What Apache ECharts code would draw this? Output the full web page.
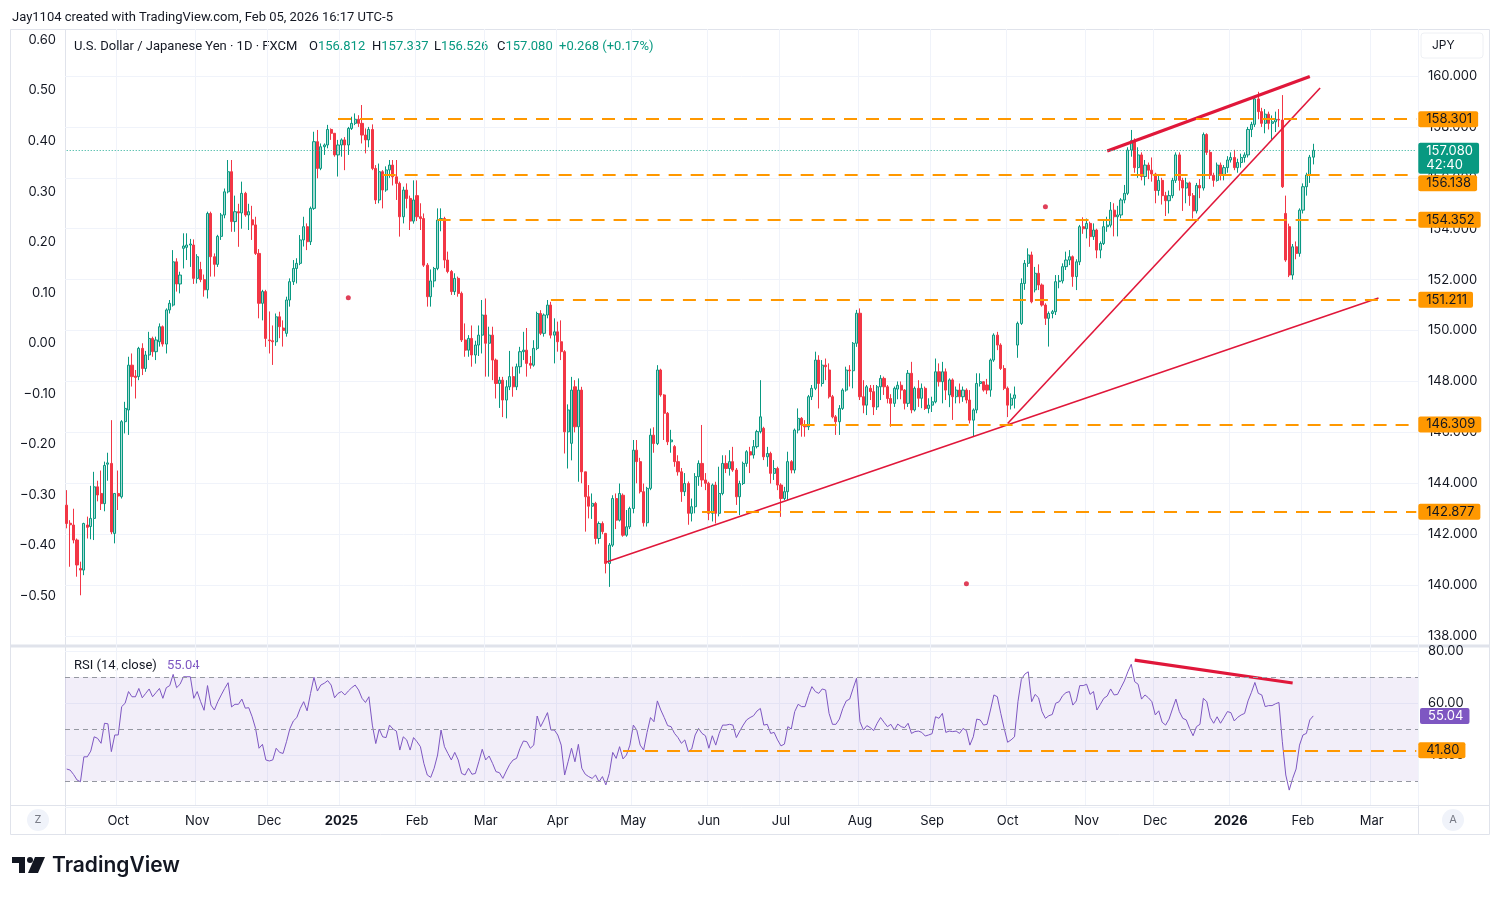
<!DOCTYPE html>
<html><head><meta charset="utf-8">
<script src="https://cdn.jsdelivr.net/npm/echarts@6/dist/echarts.min.js"></script>
<style>html,body{margin:0;padding:0;background:#fff}#c{width:1500px;height:897px}</style>
</head><body><div id="c"></div><script>
// ---------------- DATA ----------------
const firstDay = '2024-09-10';
const barSlots = 394;               // trading-day slots shown on the time axis (incl. future)
const holidays = ['2024-12-25','2025-01-01','2025-12-25','2026-01-01'];
const monthNames = ['Jan','Feb','Mar','Apr','May','Jun','Jul','Aug','Sep','Oct','Nov','Dec'];

// daily candles [open, high, low, close], USD/JPY FXCM, from 2024-09-10 to 2026-02-05
const candles = [
// Sep 2024
[143.14,143.73,142.23,142.42],[142.43,142.55,140.72,142.37],[142.36,143.00,141.64,141.77],[141.77,141.83,140.33,140.79],
[140.65,140.92,139.60,140.59],[140.59,142.45,140.39,142.42],[142.36,142.69,141.83,142.27],[142.30,143.90,141.80,142.62],
[142.62,144.45,141.77,143.86],[143.86,144.10,143.29,143.54],[143.60,144.50,142.95,143.20],[143.20,144.85,142.90,144.70],
[144.75,145.20,144.10,144.80],[144.78,146.48,142.00,142.09],[142.03,143.60,141.64,143.60],
// Oct 2024
[143.60,144.50,142.95,143.50],[143.47,146.48,143.40,146.42],[146.42,147.20,145.96,146.94],[146.88,148.97,145.90,148.64],
[148.64,149.10,147.80,148.19],[148.21,148.45,147.33,148.16],[148.19,149.36,148.05,149.30],[149.30,149.50,148.25,148.51],
[148.51,149.20,148.38,149.04],[149.04,149.95,148.84,149.69],[149.69,149.76,148.97,149.17],[149.17,149.76,148.84,149.63],
[149.56,150.28,149.37,150.15],[150.15,150.20,149.37,149.47],[149.47,150.87,149.10,150.81],[150.81,151.20,150.67,151.07],
[151.00,153.16,150.94,152.70],[152.70,152.84,151.53,151.83],[151.83,152.31,151.46,152.18],[153.23,153.82,152.44,153.32],
[153.27,153.82,152.77,153.36],[153.36,153.60,152.50,153.40],[153.36,153.58,151.83,152.05],
// Nov 2024
[152.05,153.00,151.85,152.90],[152.40,152.70,151.90,152.00],[152.00,152.20,151.33,151.60],[151.60,154.67,151.26,154.60],
[154.60,154.67,152.12,152.90],[152.90,153.03,152.12,152.60],[152.60,153.76,152.50,153.70],[153.70,154.62,153.56,154.54],
[154.54,155.58,154.41,155.45],[155.45,156.70,155.39,156.24],[156.24,156.70,153.88,154.28],[154.28,155.30,153.88,154.67],
[154.67,154.98,153.29,154.62],[154.62,155.85,154.00,155.39],[155.39,155.45,154.47,154.54],[154.54,154.98,153.95,154.67],
[154.35,154.90,153.56,154.15],[154.15,154.47,152.97,153.03],[153.03,153.20,150.48,151.07],[151.07,151.60,150.40,151.53],
[151.53,151.60,149.36,149.69],
// Dec 2024
[149.63,150.75,149.10,149.60],[149.60,150.20,148.65,149.56],[149.56,150.67,149.40,150.54],[150.54,150.74,149.70,150.15],
[150.10,150.40,149.37,150.00],[149.89,151.33,149.76,151.20],[151.20,152.05,150.94,151.92],[151.92,152.77,151.79,152.44],
[152.44,152.84,151.85,152.64],[152.64,153.75,152.57,153.56],[153.56,154.47,153.30,154.08],[154.08,154.21,153.16,153.49],
[153.49,154.87,153.36,154.80],[154.80,157.81,154.74,157.42],[157.42,157.88,155.98,156.37],[156.37,157.35,156.30,157.22],
[157.22,157.35,156.90,157.29],[157.29,158.08,157.16,157.90],[157.90,157.94,157.49,157.75],[157.75,157.75,156.83,156.90],
[156.90,157.49,156.05,157.29],
// Jan 2025
[157.29,157.55,156.83,157.49],[157.49,157.60,156.30,157.29],[157.29,158.00,156.90,157.94],[157.94,158.40,157.88,158.14],
[158.14,158.53,158.07,158.30],[158.30,158.46,158.00,158.14],[158.14,158.86,157.35,157.68],[157.68,157.94,156.96,157.49],
[157.49,158.00,157.20,157.90],[157.90,158.10,156.30,156.37],[156.37,156.50,154.97,155.13],[155.13,156.56,155.00,156.24],
[156.24,156.30,154.80,155.52],[155.52,156.45,155.45,156.31],[156.31,156.70,156.00,156.50],[156.50,156.70,155.70,156.04],
[156.04,156.70,155.13,155.78],[155.78,155.85,153.69,154.47],[154.47,155.65,154.21,155.52],[155.52,155.78,154.80,155.19],
[155.19,155.30,153.95,154.30],[154.30,155.90,154.20,155.13],
// Feb 2025
[155.30,155.90,154.30,154.47],[154.47,155.00,153.95,154.40],[154.40,154.60,152.50,152.57],[152.57,152.65,150.94,151.33],
[151.33,152.40,150.94,151.95],[151.95,152.50,151.70,152.44],[152.44,154.80,152.37,154.34],[154.34,154.80,153.90,154.40],
[154.40,154.47,152.45,152.77],[152.77,153.10,152.25,152.32],[152.32,152.38,151.40,151.53],[151.53,152.25,151.40,152.05],
[152.05,152.12,151.33,151.46],[151.46,151.53,149.55,149.63],[149.63,150.28,148.97,149.23],[149.23,149.82,148.97,149.69],
[149.69,150.20,148.58,149.04],[149.04,149.60,148.70,149.43],[149.43,150.20,149.00,149.82],[149.82,151.20,149.10,150.61],
// Mar 2025
[150.61,151.26,148.19,149.50],[149.50,150.15,148.19,149.82],[149.82,150.15,148.05,148.84],[148.84,148.90,147.33,147.92],
[147.92,148.18,146.96,148.05],[148.05,148.18,146.60,147.27],[147.27,148.05,146.55,147.79],[147.79,149.20,147.66,148.19],
[148.19,148.58,147.40,147.79],[147.79,148.70,147.66,148.58],[148.58,149.36,148.31,149.17],[149.17,149.95,148.84,149.23],
[149.23,150.10,148.19,148.71],[148.71,149.00,148.50,148.64],[148.64,149.62,148.58,149.30],[149.30,150.74,149.23,150.67],
[150.67,150.80,149.82,149.89],[149.89,150.67,149.76,150.61],[150.61,151.20,150.48,151.00],[151.00,151.13,149.69,149.82],
[149.82,150.48,148.71,149.95],
// Apr 2025
[149.95,150.35,149.17,149.56],[149.56,150.40,148.84,149.17],[149.17,149.23,145.17,146.02],[146.02,147.10,144.58,146.88],
[145.57,148.18,144.90,147.66],[147.79,148.05,146.00,146.22],[146.22,148.12,144.06,147.66],[147.66,147.79,144.00,144.45],
[144.45,144.45,142.10,143.47],[143.47,143.93,142.62,143.10],[143.10,143.60,142.60,143.21],[143.21,143.27,141.60,141.83],
[141.83,142.50,141.63,142.42],[142.42,142.50,142.00,142.10],[142.03,142.05,140.46,140.85],[140.85,141.65,139.93,141.57],
[141.57,143.53,141.50,143.40],[143.40,143.60,142.20,142.55],[142.55,143.99,142.50,143.60],[143.53,143.60,141.90,141.96],
[141.96,142.95,141.90,142.29],[142.29,143.08,142.20,143.01],
// May 2025
[143.01,145.70,142.82,145.30],[145.30,145.70,144.00,144.85],[144.85,145.00,143.60,143.67],[143.67,143.99,142.30,142.45],
[142.45,143.86,142.30,143.80],[143.80,146.15,143.73,145.89],[145.89,146.20,145.20,145.56],[145.56,148.64,145.50,148.45],
[148.45,148.50,147.40,147.47],[147.47,147.50,145.70,146.75],[146.75,146.80,145.50,145.63],[145.63,146.10,145.20,145.70],
[145.44,145.50,144.65,144.85],[144.85,145.10,144.30,144.45],[144.45,144.60,143.27,143.67],[143.67,144.40,143.50,143.99],
[143.99,144.07,142.37,142.82],[142.82,143.40,142.50,143.08],[143.08,144.40,142.82,144.26],[144.26,144.90,143.90,144.78],
[144.78,146.29,143.86,144.13],[144.13,144.40,143.73,144.00],
// Jun 2025
[144.00,144.06,142.55,142.82],[142.82,143.99,142.50,143.93],[143.93,144.06,142.42,142.82],[142.82,144.65,142.70,143.60],
[143.60,145.10,143.53,144.78],[144.78,145.10,144.40,144.58],[144.58,145.30,144.30,144.85],[144.85,145.43,144.45,144.52],
[144.52,144.60,143.15,143.47],[143.47,144.10,142.75,143.99],[143.99,144.85,143.93,144.78],[144.78,145.30,144.65,145.24],
[145.24,145.43,144.40,145.11],[145.11,145.70,144.97,145.44],[145.44,146.10,145.37,146.03],[146.03,148.05,145.96,146.61],
[146.16,146.22,144.91,145.04],[145.04,145.43,144.65,145.17],[145.17,145.24,143.99,144.39],[144.39,144.91,144.13,144.58],
[144.58,144.65,143.73,143.93],
// Jul 2025
[143.93,144.00,142.68,143.40],[143.40,143.86,143.34,143.67],[143.67,145.24,143.34,144.85],[144.85,144.91,144.39,144.52],
[144.52,146.15,144.39,146.09],[146.09,146.94,145.96,146.55],[146.55,146.60,145.83,146.29],[146.29,146.48,145.83,146.22],
[146.22,147.47,146.09,147.40],[147.40,147.86,147.27,147.73],[147.73,149.17,147.66,148.84],[148.84,149.03,146.94,147.92],
[147.92,148.84,147.80,148.64],[148.64,148.90,148.05,148.58],[148.45,148.71,147.33,147.40],[147.40,147.47,146.55,146.61],
[146.61,146.68,145.90,146.42],[146.42,147.07,145.90,146.94],[146.94,147.73,146.88,147.66],[147.66,148.58,147.60,148.45],
[148.45,148.64,147.80,148.42],[148.42,149.55,147.73,149.50],[149.50,150.81,149.36,150.68],
// Aug 2025
[150.68,150.87,147.27,147.40],[147.40,148.05,146.75,147.07],[147.07,147.86,146.68,147.79],[147.73,147.86,147.27,147.60],
[147.60,147.86,146.68,147.00],[147.00,147.86,146.88,147.79],[147.79,148.25,147.27,148.12],[148.12,148.19,147.47,147.79],
[147.79,147.86,147.14,147.33],[147.33,147.50,146.22,147.14],[147.14,147.80,147.00,147.73],[147.70,148.00,147.30,147.85],
[147.85,148.00,147.30,147.66],[147.66,147.70,146.90,147.14],[147.14,148.45,147.00,148.32],[148.32,148.77,146.75,146.88],
[146.88,147.80,146.82,147.73],[147.73,148.05,147.00,147.34],[147.34,147.92,146.95,147.73],[147.73,147.80,146.88,146.94],
[146.94,147.34,146.75,147.07],
// Sep 2025
[147.07,147.40,146.80,147.20],[147.20,148.90,147.14,148.38],[148.38,148.71,147.80,147.99],[147.99,148.77,147.14,148.38],
[148.38,148.51,147.27,147.66],[147.47,148.12,146.99,148.06],[148.06,148.12,146.49,147.40],[147.40,147.80,147.14,147.66],
[147.66,147.92,147.14,147.40],[147.40,147.80,147.20,147.66],[147.66,147.73,147.14,147.27],[147.27,147.66,146.35,146.48],
[146.48,146.94,145.83,146.88],[146.88,148.32,146.75,147.92],[147.92,148.32,147.80,147.99],[147.99,148.00,147.60,147.66],
[147.86,148.10,147.50,147.66],[147.66,148.90,147.40,148.84],[148.84,149.89,148.77,149.82],[149.82,149.95,149.23,149.43],
[149.43,149.50,148.45,148.51],[148.51,148.64,147.66,147.73],
// Oct 2025
[147.73,147.80,146.60,147.07],[147.07,147.53,146.90,147.34],[147.34,147.80,146.94,147.47],[149.43,150.35,148.93,150.28],
[150.28,152.05,150.22,151.85],[151.85,152.77,151.60,152.64],[152.64,153.23,152.50,152.97],[152.97,153.10,151.07,151.13],
[151.60,152.50,151.50,152.25],[152.25,152.60,151.59,151.79],[151.79,151.85,150.94,151.00],[151.00,151.07,150.22,150.48],
[150.48,150.75,149.37,150.67],[150.67,150.81,150.48,150.74],[150.74,152.18,150.61,151.92],[151.92,152.18,151.66,151.95],
[151.95,152.64,151.85,152.51],[152.51,153.10,152.38,152.77],[152.77,153.16,152.57,152.90],[152.90,152.95,151.72,152.12],
[152.12,152.80,151.59,152.70],[152.70,154.15,152.57,154.08],[154.08,154.45,153.80,154.00],
// Nov 2025
[154.00,154.40,153.62,154.21],[154.21,154.28,153.29,153.69],[153.69,154.21,153.56,153.95],[153.95,154.00,152.84,153.16],
[153.16,153.50,152.84,153.42],[153.42,154.30,153.36,154.08],[154.08,154.47,153.88,154.14],[154.14,155.05,154.05,154.73],
[154.73,155.00,153.70,154.47],[154.47,154.90,153.70,154.54],[154.54,155.20,154.41,155.13],[155.13,155.72,155.00,155.39],
[155.39,157.20,155.32,157.09],[157.09,157.88,156.83,157.46],[157.46,157.55,156.20,156.40],[156.40,157.20,156.00,156.90],
[156.90,157.00,155.90,156.05],[156.05,156.70,155.70,156.50],[156.50,156.60,155.95,156.30],[156.30,156.80,155.85,156.15],
// Dec 2025
[156.15,156.20,155.00,155.50],[155.50,156.10,155.30,155.90],[155.90,156.00,154.95,155.30],[155.30,155.45,154.50,155.10],
[155.10,155.50,154.60,155.30],[155.30,156.00,155.20,155.90],[155.90,157.00,155.80,156.90],[156.90,157.00,155.50,155.90],
[155.90,156.00,154.70,155.60],[155.60,156.00,155.00,155.80],[155.80,155.85,154.90,155.30],[155.30,155.40,154.40,154.70],
[154.70,155.80,154.60,155.70],[155.70,155.95,155.20,155.60],[155.60,157.78,155.50,157.70],[157.70,157.75,156.90,157.00],
[157.00,157.10,155.95,156.10],[156.10,156.20,155.65,155.90],[155.90,156.60,155.85,156.50],[156.50,156.60,155.90,156.10],
[156.10,156.50,155.90,156.40],[156.40,156.85,156.20,156.70],
// Jan 2026
[156.70,157.00,156.60,156.80],[156.80,157.10,156.30,156.40],[156.40,156.75,156.20,156.60],[156.60,156.95,156.40,156.80],
[156.80,157.00,156.60,156.90],[156.90,158.00,156.80,157.90],[157.90,158.20,157.60,158.10],[158.10,159.15,158.00,159.10],
[159.10,159.38,158.30,158.60],[158.60,158.75,158.00,158.14],[158.14,158.70,157.75,158.50],[158.50,158.60,157.90,158.14],
[158.14,158.45,157.50,158.20],[158.20,158.60,157.80,158.30],[158.30,158.70,158.00,158.27],[158.27,159.25,155.60,155.65],
[154.60,155.30,152.70,152.77],[154.08,154.20,152.10,152.18],[152.18,153.40,152.00,153.29],[153.29,153.50,152.80,153.03],
[153.03,154.80,152.90,154.73],
// Feb 2026
[154.73,155.78,154.60,155.65],[155.65,156.20,155.30,156.11],[156.11,156.90,155.80,156.81],[156.812,157.337,156.526,157.080]
];

// RSI(14, close), one value per candle
const rsi = [
34.6,34.2,32.5,30.4,29.7,39.3,39.3,41.5,47.0,46.4,
44.5,52.2,52.0,41.3,47.7,47.7,58.6,59.9,64.4,62.4,
62.4,65.6,62.0,63.7,65.4,62.4,64.0,65.6,61.8,65.9,
66.7,71.0,65.9,67.2,70.1,70.1,70.1,61.8,64.4,60.5,
57.2,66.7,59.2,57.3,60.5,63.1,65.6,67.8,58.5,59.5,
59.5,61.5,58.0,58.2,54.7,50.2,42.6,44.1,38.1,37.7,
38.1,42.6,41.0,40.6,45.1,50.2,53.1,54.4,57.9,60.5,
57.0,63.7,69.9,64.6,66.9,67.6,68.6,66.9,62.0,63.7,
64.4,63.1,64.6,65.9,66.9,65.0,61.8,60.2,62.4,51.5,
44.4,50.0,47.0,46.7,51.5,50.0,49.2,41.9,47.0,45.8,
41.9,46.7,45.1,43.2,36.8,32.3,31.4,34.9,40.0,49.6,
43.2,40.6,38.1,41.0,38.1,32.9,32.3,34.9,32.6,32.9,
37.4,42.2,38.1,39.6,36.8,33.6,33.2,31.0,33.8,36.4,
38.1,38.7,42.6,45.4,45.1,42.6,43.8,55.0,50.9,53.5,
56.3,49.6,49.6,47.7,43.8,32.3,37.4,42.6,37.4,44.1,
34.9,32.6,31.7,31.0,32.3,29.7,31.7,28.5,32.9,41.0,
38.7,43.2,38.5,40.0,43.8,51.5,49.6,43.8,41.9,48.7,
54.4,52.8,60.8,57.3,54.4,51.3,50.9,48.3,46.7,44.5,
45.8,41.3,42.3,47.7,50.2,
48.3,47.4,42.6,47.4,43.8,48.3,51.5,51.5,51.8,51.5,
46.7,49.2,51.5,53.5,54.4,55.1,56.9,57.9,51.5,51.8,
48.3,48.7,45.8,43.5,44.2,50.9,50.0,56.7,59.5,58.6,
58.6,62.8,66.3,64.4,63.7,65.4,65.0,56.0,51.8,51.8,
53.8,57.9,60.8,61.5,65.6,69.5,52.8,49.6,51.3,50.5,
49.4,52.2,54.4,52.6,50.9,51.8,49.6,51.9,50.9,50.5,
52.2,48.3,49.0,49.2,48.7,47.3,47.7,48.2,54.7,54.1,
56.0,48.7,49.2,49.0,49.2,48.3,50.2,49.4,43.8,47.0,
53.8,53.5,51.5,51.8,57.3,63.1,62.4,56.0,50.2,44.9,
45.8,47.0,60.5,69.1,71.1,72.0,60.5,63.3,62.0,56.7,
54.1,55.1,55.6,59.9,60.5,62.8,64.0,64.4,59.2,60.8,
66.7,66.7,67.2,63.3,64.4,57.3,59.5,61.8,62.7,65.4,
63.1,63.3,65.9,68.5,72.0,74.9,68.2,67.2,61.5,63.1,
62.0,60.5,55.4,57.0,52.6,51.5,53.8,57.7,61.5,56.7,
54.1,53.5,50.2,47.4,50.9,51.8,61.8,60.5,54.4,52.2,
54.7,52.2,54.4,56.7,56.3,53.1,54.5,55.4,56.0,60.8,
64.1,67.9,63.7,63.1,58.6,59.0,59.0,59.7,60.2,45.1,
32.3,26.5,31.0,34.6,43.8,47.7,48.3,53.5,55.04
];

// horizontal levels drawn on the price pane: start date and price
const levelStarts = ['2024-12-31','2025-01-20','2025-02-11','2025-03-28','2025-07-09','2025-05-29'];
const levelPrices = [158.301,156.138,154.352,151.211,146.309,142.877];
const lastPrice = 157.080;
const countdown = '42:40';
// trend lines [[date, price],[date, price]]
const wedgeTop = [['2025-11-11',157.05],['2026-02-04',159.98]];
const wedgeBottom = [['2025-10-01',146.35],['2026-02-09',159.53]];
const longSupport = [['2025-04-21',140.90],['2026-03-04',151.28]];
// overlay points on the left scale
const overlayDots = [['2025-01-06',0.09],['2025-09-15',-0.476],['2025-10-16',0.27]];
// RSI pane
const rsiLevelStart = '2025-04-28';
const rsiLevel = 41.80;
const rsiBands = [70,50,30];
const rsiDivergence = [['2025-11-21',76.5],['2026-01-28',67.7]];
const priceAxis = {min:138, max:160, step:2};
const leftAxis = {min:-0.5, max:0.6, step:0.1};
const rsiAxis = {min:20, max:80, step:20};

// ---------------- BUILD ----------------
const dates = [];
{ const d = new Date(firstDay + 'T00:00:00Z');
  while (dates.length < barSlots) {
    const w = d.getUTCDay(), s = d.toISOString().slice(0,10);
    if (w !== 0 && w !== 6 && !holidays.includes(s)) dates.push(s);
    d.setUTCDate(d.getUTCDate() + 1);
  } }
const lastDate = dates[dates.length - 1];
const isMonthStart = i => i > 0 && dates[i].slice(0,7) !== dates[i-1].slice(0,7);

const FONT = 'Inter, "Noto Sans", sans-serif';
const TFONT = 'Roboto, "Noto Sans", sans-serif';
const TXT = '#131722', GRID = '#f0f3fa', FRAME = '#e0e3eb';
const UP = '#089981', DN = '#f23645', ORANGE = '#ff9800', PURPLE = '#7e57c2', RED = '#e0173a';
const L = 65, R = 82;

const boxLabel = (text, bg, fg, dy) => ({show:true, position:'end', formatter:text, color:fg, backgroundColor:bg,
  padding:[2,6,1,8], fontSize:13, fontFamily:FONT, distance:2, borderRadius:2, offset:[0, dy || 0]});

// label shifts (px) used by the price scale to keep the boxes from overlapping
const levelLabelShift = [0, 9, 0, 0, 0, 0];
const levelLines = levelPrices.map((p, k) => [
  {coord:[levelStarts[k], p], lineStyle:{color:ORANGE, width:2, type:[13,9]},
   label: boxLabel(p.toFixed(3), ORANGE, TXT, levelLabelShift[k])},
  {coord:[lastDate, p]}
]);
const priceLine = [
  {coord:[dates[0], lastPrice], lineStyle:{color:'#22ab94', width:1, type:[1,2]},
   label: Object.assign(boxLabel(lastPrice.toFixed(3) + '\n' + countdown, UP, '#ffffff', 8), {lineHeight:14})},
  {coord:[lastDate, lastPrice]}
];

const hiddenX = gi => ({type:'category', gridIndex:gi, data:dates, show:false, boundaryGap:true});
const minus = v => Math.abs(v) < 1e-9 ? '0.00' : (v < 0 ? '\u2212' : '') + Math.abs(v).toFixed(2);
const legendText = (left, top, text, color) => ({type:'text', left, top, silent:true,
  style:{text, fontSize:13, fontFamily:TFONT, fill:color || TXT, rich:{g:{fill:UP, fontSize:13, fontFamily:TFONT}}}});

const lastRsi = rsi[rsi.length - 1];

const option = {
  animation:false,
  backgroundColor:'#ffffff',
  textStyle:{fontFamily:FONT},
  grid:[
    {left:L, right:R, top:76, height:560},
    {left:L, right:R, top:40, height:556},
    {left:L, right:R, top:651, height:156},
    {left:L, right:R, top:29, height:776}
  ],
  xAxis:[
    hiddenX(0), hiddenX(1), hiddenX(2),
    {type:'category', gridIndex:3, data:dates, boundaryGap:true,
     axisLine:{show:false}, axisTick:{show:false},
     axisLabel:{interval:(i) => isMonthStart(i), margin:10, color:TXT, fontSize:13, fontFamily:FONT,
       formatter:(v, i) => { const m = +v.slice(5,7); return m === 1 ? '{y|' + v.slice(0,4) + '}' : monthNames[m-1]; },
       rich:{y:{fontWeight:'bold', fontSize:13, color:TXT, fontFamily:FONT}}},
     splitLine:{show:true, interval:(i) => isMonthStart(i), lineStyle:{color:GRID, width:1}}}
  ],
  yAxis:[
    {type:'value', gridIndex:0, position:'right', min:priceAxis.min, max:priceAxis.max, interval:priceAxis.step,
     axisLine:{show:false}, axisTick:{show:false},
     axisLabel:{formatter:v => v.toFixed(3), color:TXT, fontSize:13, margin:10, fontFamily:FONT},
     splitLine:{lineStyle:{color:GRID}}},
    {type:'value', gridIndex:1, position:'left', min:leftAxis.min, max:leftAxis.max, interval:leftAxis.step,
     axisLine:{show:false}, axisTick:{show:false}, splitLine:{show:false},
     axisLabel:{formatter:minus, color:TXT, fontSize:13, margin:9, fontFamily:FONT}},
    {type:'value', gridIndex:2, position:'right', min:rsiAxis.min, max:rsiAxis.max, interval:rsiAxis.step,
     axisLine:{show:false}, axisTick:{show:false},
     axisLabel:{formatter:v => v === rsiAxis.min ? '' : v.toFixed(2), color:TXT, fontSize:13, margin:10, fontFamily:FONT},
     splitLine:{lineStyle:{color:GRID}}},
    {type:'value', gridIndex:3, show:false, min:0, max:1}
  ],
  series:[
    {type:'candlestick', xAxisIndex:0, yAxisIndex:0, barWidth:2.6,
     data:candles.map(c => [c[0], c[3], c[2], c[1]]),
     itemStyle:{color:'rgba(8,153,129,0.35)', color0:DN, borderColor:UP, borderColor0:DN, borderWidth:1},
     markLine:{symbol:['none','none'], silent:true, animation:false, precision:3,
       data: levelLines.concat([priceLine])}},
    {type:'line', xAxisIndex:0, yAxisIndex:0, data:longSupport, symbol:'none', silent:true, z:4,
     lineStyle:{color:RED, width:1.6}},
    {type:'line', xAxisIndex:0, yAxisIndex:0, data:wedgeBottom, symbol:'none', silent:true, z:4,
     lineStyle:{color:RED, width:1.6}},
    {type:'line', xAxisIndex:0, yAxisIndex:0, data:wedgeTop, symbol:'none', silent:true, z:4,
     lineStyle:{color:RED, width:3.2}},
    {type:'scatter', xAxisIndex:1, yAxisIndex:1, data:overlayDots, symbolSize:5, silent:true,
     itemStyle:{color:'#d8102f'}},
    {type:'line', xAxisIndex:2, yAxisIndex:2, data:rsi, symbol:'none', silent:true,
     lineStyle:{color:PURPLE, width:1},
     markArea:{silent:true, itemStyle:{color:'rgba(126,87,194,0.1)'}, data:[[{yAxis:30},{yAxis:70}]]},
     markLine:{symbol:['none','none'], silent:true, animation:false,
       data: rsiBands.map(v => ({yAxis:v, lineStyle:{color:'#9598a1', width:1, type:[5,4]}, label:{show:false}}))
         .concat([
           [{coord:[rsiLevelStart, rsiLevel], lineStyle:{color:ORANGE, width:2, type:[13,9]},
             label: boxLabel(rsiLevel.toFixed(2), ORANGE, TXT)}, {coord:[lastDate, rsiLevel]}],
           {yAxis:lastRsi, lineStyle:{color:'rgba(0,0,0,0)', width:0},
            label: boxLabel(lastRsi.toFixed(2), PURPLE, '#ffffff')}
         ])}},
    {type:'line', xAxisIndex:2, yAxisIndex:2, data:rsiDivergence, symbol:'none', silent:true, z:4,
     lineStyle:{color:RED, width:3.2}}
  ],
  graphic:{elements:[
    // frame
    {type:'rect', shape:{x:10.5, y:29.5, width:1479, height:805}, style:{fill:'none', stroke:FRAME, lineWidth:1}, silent:true, z:-1},
    {type:'line', shape:{x1:65.5, y1:29, x2:65.5, y2:835}, style:{stroke:FRAME, lineWidth:1}, silent:true},
    {type:'line', shape:{x1:1418.5, y1:29, x2:1418.5, y2:835}, style:{stroke:FRAME, lineWidth:1}, silent:true},
    {type:'line', shape:{x1:10, y1:646, x2:1490, y2:646}, style:{stroke:FRAME, lineWidth:3}, silent:true},
    {type:'line', shape:{x1:10, y1:805.5, x2:1490, y2:805.5}, style:{stroke:FRAME, lineWidth:1}, silent:true},
    // header
    {type:'text', left:12, top:11, silent:true,
     style:{text:'Jay1104 created with TradingView.com, Feb 05, 2026 16:17 UTC-5', fontSize:13, fontFamily:TFONT, fill:TXT}},
    legendText(74, 40, 'U.S. Dollar / Japanese Yen \u00b7 1D \u00b7 FXCM'),
    legendText(309, 40, 'O{g|156.812}'),
    legendText(372, 40, 'H{g|157.337}'),
    legendText(434, 40, 'L{g|156.526}'),
    legendText(497, 40, 'C{g|157.080}'),
    legendText(559, 40, '+0.268 (+0.17%)', UP),
    legendText(74, 659, 'RSI (14, close)'),
    legendText(167, 659, '55.04', PURPLE),
    // currency box
    {type:'rect', shape:{x:1421, y:33, width:62, height:25, r:3}, style:{fill:'#ffffff', stroke:'#eef0f4', lineWidth:1}, silent:true},
    {type:'text', left:1432, top:39, style:{text:'JPY', fontSize:12, fontFamily:FONT, fill:TXT}, silent:true},
    // Z / A buttons
    {type:'circle', shape:{cx:38, cy:820, r:11}, style:{fill:'#f0f3fa'}, silent:true},
    {type:'text', x:38, y:820, style:{text:'Z', fontSize:11, fontFamily:FONT, fill:'#787b86', align:'center', verticalAlign:'middle'}, silent:true},
    {type:'circle', shape:{cx:1453, cy:820, r:11}, style:{fill:'#f0f3fa'}, silent:true},
    {type:'text', x:1453, y:820, style:{text:'A', fontSize:11, fontFamily:FONT, fill:'#787b86', align:'center', verticalAlign:'middle'}, silent:true},
    // TradingView logo
    {type:'rect', shape:{x:12, y:857, width:13, height:6}, style:{fill:TXT}, silent:true},
    {type:'rect', shape:{x:19, y:857, width:6, height:16}, style:{fill:TXT}, silent:true},
    {type:'circle', shape:{cx:30, cy:860, r:3}, style:{fill:TXT}, silent:true},
    {type:'polygon', shape:{points:[[35,857],[45,857],[38,873],[28,873]]}, style:{fill:TXT}, silent:true},
    {type:'text', left:52, top:855, style:{text:'TradingView', fontSize:21, fontWeight:600, fontFamily:FONT, fill:TXT}, silent:true}
  ]}
};

const chart = echarts.init(document.getElementById('c'), null, {renderer:'canvas'});
chart.setOption(option);
</script></body></html>
